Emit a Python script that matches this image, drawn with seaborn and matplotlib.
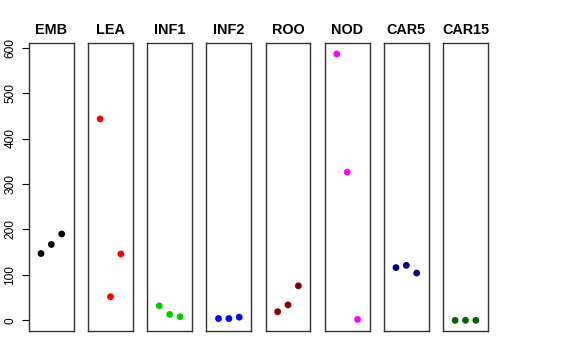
import matplotlib
matplotlib.use("Agg")
import matplotlib.pyplot as plt
import seaborn as sns
import pandas as pd

tissues = ["EMB", "LEA", "INF1", "INF2", "ROO", "NOD", "CAR5", "CAR15"]
colors = ["#000000", "#FF0000", "#00CD00", "#0000FF", "#8B0000", "#FF00FF", "#000080", "#006400"]
replicate = [1, 2, 3]
values = {
    "EMB": [147, 167, 190],
    "LEA": [443, 52, 146],
    "INF1": [32, 13, 8],
    "INF2": [4, 4, 7],
    "ROO": [19, 34, 76],
    "NOD": [586, 326, 2],
    "CAR5": [116, 121, 104],
    "CAR15": [0, 0, 0],
}
yticks = [0, 100, 200, 300, 400, 500, 600]

rows = []
for t in tissues:
    for r, v in zip(replicate, values[t]):
        rows.append({"tissue": t, "rep": r, "value": v})
df = pd.DataFrame(rows)

sns.set_style("white")
plt.rcParams["font.family"] = ["Liberation Sans", "DejaVu Sans"]
plt.rcParams["text.color"] = "black"
plt.rcParams["axes.labelcolor"] = "black"
plt.rcParams["ytick.color"] = "black"
plt.rcParams["xtick.color"] = "black"

fig, axes = plt.subplots(1, len(tissues), figsize=(5.76, 3.6), dpi=100, sharey=True)
fig.subplots_adjust(left=0.0503, right=0.847, top=0.8797, bottom=0.0806, wspace=0.322)

for i, (ax, t, c) in enumerate(zip(axes, tissues, colors)):
    sub = df[df["tissue"] == t]
    sns.scatterplot(data=sub, x="rep", y="value", ax=ax, color=c, s=24,
                    edgecolor="none", linewidth=0, legend=False)
    ax.set_xlim(-0.16, 4.16)
    ax.set_ylim(-23.4, 609.4)
    ax.set_xticks([])
    ax.set_xlabel("")
    ax.set_ylabel("")
    ax.set_title(t, fontsize=10.4, fontweight="bold", pad=7, color="black")
    for sp in ax.spines.values():
        sp.set_visible(True)
        sp.set_color("#333333")
        sp.set_linewidth(1.0)
    if i == 0:
        ax.set_yticks(yticks)
        ax.set_yticklabels([str(v) for v in yticks], rotation=90, va="center", fontsize=8.6, color="black")
        ax.tick_params(axis="y", left=True, length=5, width=0.8, pad=4, color="#000000", labelcolor="black")
    else:
        ax.tick_params(axis="y", left=False, labelleft=False)

fig.savefig("out.png", dpi=100)
